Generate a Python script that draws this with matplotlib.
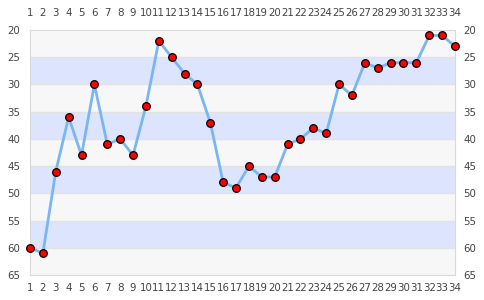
import matplotlib
matplotlib.use("Agg")
import matplotlib.pyplot as plt
import matplotlib.transforms as mtrans

# x positions and values (y axis is inverted)
xs = list(range(1, 35))
vals = [60, 61, 46, 36, 43, 30, 41, 40, 43, 34, 22, 25, 28, 30, 37, 48, 49, 45, 47, 47,
        41, 40, 38, 39, 30, 32, 26, 27, 26, 26, 26, 21, 21, 23]
yticks = [20, 25, 30, 35, 40, 45, 50, 55, 60, 65]

fig = plt.figure(figsize=(4.85, 3.0), dpi=100)
ax = fig.add_axes([30 / 485, 25 / 300, 425 / 485, 245 / 300])

# alternating bands
for i, lo in enumerate(yticks[:-1]):
    col = '#dde4fe' if i % 2 else '#f7f7f7'
    ax.axhspan(lo, lo + 5, color=col, zorder=0, lw=0)
for y in yticks[1:-1]:
    ax.axhline(y, color='#e2e2e2', lw=1, zorder=1)

ax.plot(xs, vals, '-', color='#7ab6f2', lw=2, zorder=2, clip_on=False)
ax.plot(xs, vals, 'o', ms=5.5, mfc='#ff0000', mec='#000000', mew=0.9, zorder=3, clip_on=False)

ax.set_xlim(1, 34)
ax.set_ylim(65, 20)
ax.set_xticks(xs)
ax.set_yticks(yticks)
ax.tick_params(length=0, labelsize=7.4, colors='#444444',
               top=True, labeltop=True, right=True, labelright=True)
ax.tick_params(axis='y', pad=7)
ax.tick_params(axis='x', pad=5.5)
for s in ax.spines.values():
    s.set_color('#d9d9d9')

# top labels sit a bit higher, right labels a bit closer
off_top = mtrans.ScaledTranslation(0, 3 / 72, fig.dpi_scale_trans)
for t in ax.xaxis.get_major_ticks():
    t.label2.set_transform(t.label2.get_transform() + off_top)
off_right = mtrans.ScaledTranslation(-1.2 / 72, 0, fig.dpi_scale_trans)
for t in ax.yaxis.get_major_ticks():
    t.label2.set_transform(t.label2.get_transform() + off_right)

fig.savefig('out.png', dpi=100)
